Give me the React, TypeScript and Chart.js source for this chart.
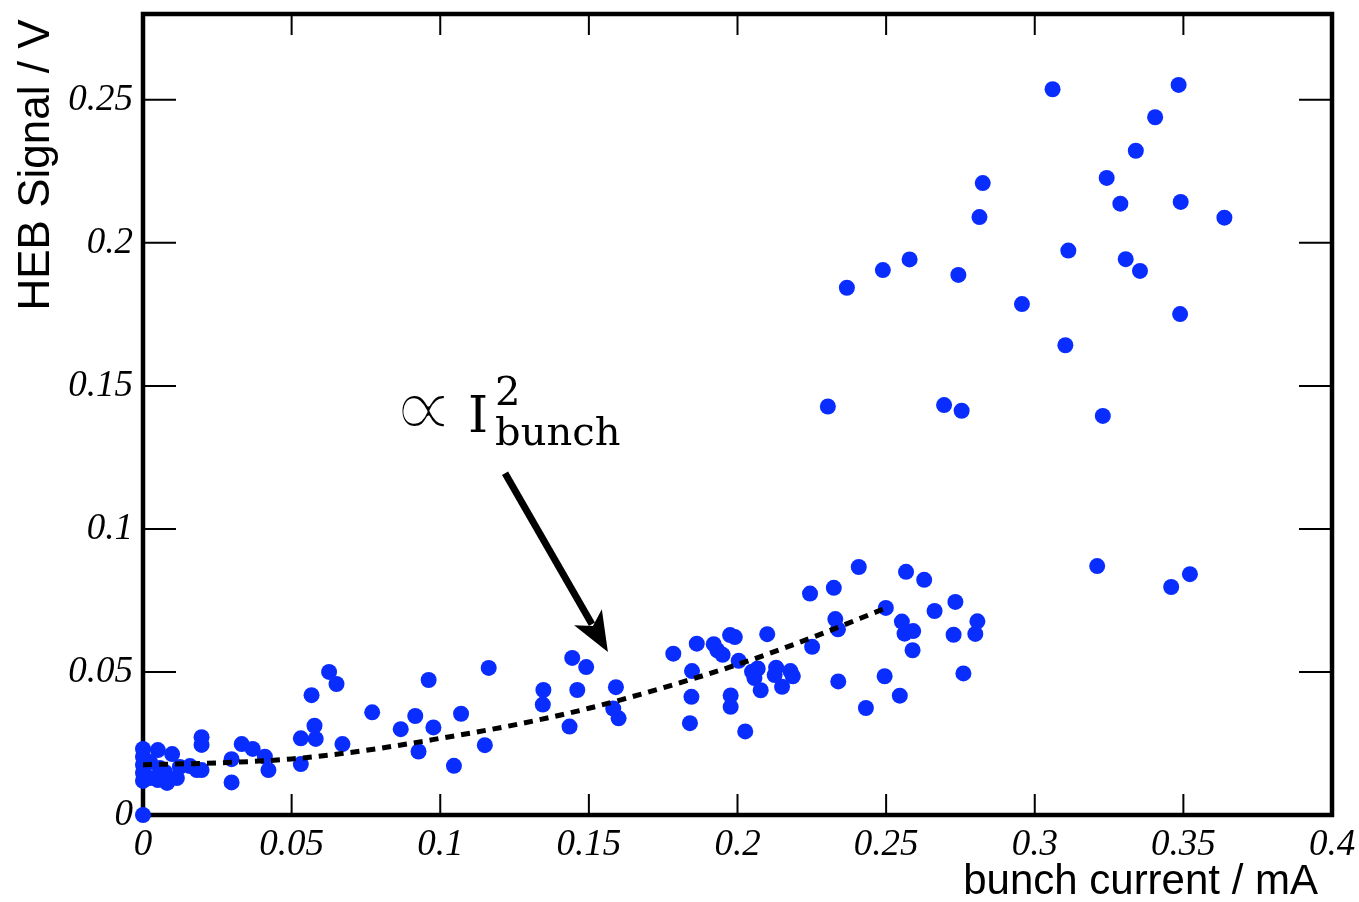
import React, { useEffect, useRef } from "react";
import { Chart, registerables } from "chart.js";

Chart.register(...registerables);

// ---- data ----
const currentX = [
  0, 0, 0, 0, 0, 0.005, 0.0098, 0.0024, 0.0057, 0.0124, 0.0158, 0.005, 0.0081, 0.0114, 0.0024, 0.0074, 0,
  0.0181, 0.0197, 0.0197, 0.0197, 0.0298, 0.0298, 0.0332, 0.0369, 0.041, 0.0422,
  0.0531, 0.0531, 0.0567, 0.0577, 0.0581, 0.0626, 0.0651, 0.0671, 0.0771,
  0.0867, 0.0916, 0.0927, 0.0961, 0.0977, 0.1046, 0.107, 0.115, 0.1163,
  0.1345, 0.1347, 0.1435, 0.1444, 0.1461, 0.1491, 0.1582, 0.1591, 0.16,
  0.1784, 0.184, 0.1845, 0.1847, 0.1863, 0.192, 0.1932, 0.195, 0.1975, 0.1991, 0.1977, 0.1977, 0.2004,
  0.2026, 0.2049, 0.2068, 0.2057, 0.2078, 0.21, 0.2125, 0.213, 0.215, 0.2178, 0.2186,
  0.2244, 0.2251, 0.2324, 0.2329, 0.2338, 0.2339, 0.2408, 0.2432, 0.2495, 0.2499, 0.2546, 0.2553,
  0.2562, 0.2567, 0.2589, 0.2591, 0.2628, 0.2663, 0.2727, 0.2733, 0.276, 0.28, 0.2807,
  0.321, 0.3459, 0.3522,
  0.306, 0.3484, 0.3405, 0.334, 0.3242, 0.2825, 0.2814, 0.3288, 0.3491, 0.3638, 0.3113, 0.3306,
  0.3354, 0.2579, 0.2489, 0.2368, 0.2743, 0.2957, 0.3489, 0.3103, 0.2304, 0.2695, 0.2754, 0.3229,
];

const signalY = [
  0.0231, 0.0203, 0.0175, 0.0147, 0.0119, 0.0227, 0.0213, 0.0185, 0.0164, 0.0168, 0.0171, 0.0122, 0.0112, 0.0129, 0.0129, 0.015, 0,
  0.0157, 0.0157, 0.0272, 0.0245, 0.0195, 0.0114, 0.0248, 0.0231, 0.0204, 0.0157,
  0.0268, 0.0178, 0.0419, 0.0312, 0.0266, 0.05, 0.0458, 0.0248, 0.0359,
  0.03, 0.0346, 0.0222, 0.0472, 0.0306, 0.0172, 0.0354, 0.0244, 0.0514,
  0.0386, 0.0437, 0.0309, 0.0549, 0.0437, 0.0517, 0.0372, 0.0447, 0.0338,
  0.0564, 0.0321, 0.0413, 0.0503, 0.0599, 0.0597, 0.0576, 0.056, 0.0629, 0.0622, 0.0418, 0.0378, 0.0539,
  0.0292, 0.0501, 0.0512, 0.0479, 0.0436, 0.0632, 0.0489, 0.0515, 0.0448, 0.0503, 0.0485,
  0.0774, 0.0588, 0.0794, 0.0685, 0.0649, 0.0467, 0.0867, 0.0374, 0.0485, 0.0724, 0.0417, 0.0676,
  0.0634, 0.085, 0.0576, 0.0643, 0.0822, 0.0713, 0.063, 0.0745, 0.0495, 0.0633, 0.0677,
  0.087, 0.0797, 0.0842,
  0.2537, 0.2552, 0.2439, 0.2322, 0.2227, 0.2209, 0.209, 0.2137, 0.2143, 0.2088, 0.1973, 0.1943,
  0.1902, 0.1942, 0.1905, 0.1843, 0.1888, 0.1786, 0.1751, 0.1642, 0.1428, 0.1433, 0.1413, 0.1395,
];

// dotted I^2 guide line
const fitX = [0, 0.025, 0.05, 0.075, 0.1, 0.125, 0.15, 0.175, 0.2, 0.225, 0.25];
const fitY = [0.0176, 0.0182, 0.0196, 0.0226, 0.0268, 0.0315, 0.0373, 0.0445, 0.0526, 0.062, 0.0724];

const xTickLabels = ["0", "0.05", "0.1", "0.15", "0.2", "0.25", "0.3", "0.35", "0.4"];
const yTickLabels = ["0", "0.05", "0.1", "0.15", "0.2", "0.25"];

const xTitle = "bunch current / mA";
const yTitle = "HEB Signal / V";

// annotation anchors (data units)
const annotAnchor = { x: 0.0865, y: 0.1339 };
const arrowStart = { x: 0.1218, y: 0.1195 };
const arrowTip = { x: 0.1564, y: 0.057 };

const BLUE = "rgb(10,45,255)";

const framePlugin = {
  id: "rootFrame",
  beforeDatasetsDraw(chart: any) {
    const { ctx, chartArea: a, scales } = chart;
    const xs = scales.x;
    const ys = scales.y;
    ctx.save();
    ctx.strokeStyle = "#000";
    ctx.lineWidth = 2;
    ctx.beginPath();
    xs.ticks.forEach((t: any) => {
      const px = xs.getPixelForValue(t.value);
      const major = t.label !== null && t.label !== undefined && t.label !== "";
      const L = major ? 21 : 10;
      ctx.moveTo(px, a.bottom);
      ctx.lineTo(px, a.bottom - L);
      ctx.moveTo(px, a.top);
      ctx.lineTo(px, a.top + L);
    });
    ys.ticks.forEach((t: any) => {
      const py = ys.getPixelForValue(t.value);
      const major = t.label !== null && t.label !== undefined && t.label !== "";
      const L = major ? 33 : 16;
      ctx.moveTo(a.left, py);
      ctx.lineTo(a.left + L, py);
      ctx.moveTo(a.right, py);
      ctx.lineTo(a.right - L, py);
    });
    ctx.stroke();
    ctx.lineWidth = 4.5;
    ctx.strokeRect(a.left, a.top, a.right - a.left, a.bottom - a.top);
    ctx.restore();
  },
  afterDraw(chart: any) {
    const { ctx, scales } = chart;
    const xs = scales.x;
    const ys = scales.y;
    ctx.save();
    ctx.fillStyle = "#000";
    // axis titles
    ctx.font = '44px "Liberation Sans", Arial, sans-serif';
    ctx.textAlign = "center";
    ctx.textBaseline = "middle";
    ctx.translate(36.5, 165);
    ctx.rotate(-Math.PI / 2);
    ctx.fillText(yTitle, 0, 0);
    ctx.setTransform(1, 0, 0, 1, 0, 0);
    ctx.font = '42px "Liberation Sans", Arial, sans-serif';
    ctx.textAlign = "right";
    ctx.textBaseline = "alphabetic";
    ctx.fillText(xTitle, 1318, 894);

    // annotation text
    const ax = xs.getPixelForValue(annotAnchor.x);
    const ay = ys.getPixelForValue(annotAnchor.y);
    ctx.textAlign = "left";
    ctx.font = '90px "DejaVu Sans", sans-serif';
    ctx.fillText("\u221D", ax - 9, ay + 6);
    // thin the heavy glyph strokes to match the light TeX symbol
    ctx.strokeStyle = "#fff";
    ctx.lineWidth = 3.5;
    ctx.lineJoin = "round";
    ctx.strokeText("\u221D", ax - 9, ay + 6);
    ctx.font = '51px "DejaVu Serif", serif';
    ctx.fillText("I", ax + 68, ay);
    ctx.font = '40px "DejaVu Serif", serif';
    ctx.fillText("2", ax + 95, ay - 27);
    ctx.fillText("bunch", ax + 95, ay + 13);

    // arrow
    const sx = xs.getPixelForValue(arrowStart.x);
    const sy = ys.getPixelForValue(arrowStart.y);
    const tx = xs.getPixelForValue(arrowTip.x);
    const ty = ys.getPixelForValue(arrowTip.y);
    const dx = tx - sx;
    const dy = ty - sy;
    const len = Math.hypot(dx, dy);
    const ux = dx / len;
    const uy = dy / len;
    const headLen = 40;
    const headHalf = 16;
    const bx = tx - ux * headLen;
    const by = ty - uy * headLen;
    ctx.strokeStyle = "#000";
    ctx.lineWidth = 7;
    ctx.lineJoin = "miter";
    ctx.beginPath();
    ctx.moveTo(sx, sy);
    ctx.lineTo(tx - ux * (headLen - 8), ty - uy * (headLen - 8));
    ctx.stroke();
    ctx.beginPath();
    ctx.moveTo(tx, ty);
    ctx.lineTo(bx - uy * headHalf, by + ux * headHalf);
    ctx.lineTo(tx - ux * (headLen - 10), ty - uy * (headLen - 10));
    ctx.lineTo(bx + uy * headHalf, by - ux * headHalf);
    ctx.closePath();
    ctx.fill();
    ctx.restore();
  },
};

function tickCb(labels: string[]) {
  return (v: any) => {
    const r = Math.round(Number(v) * 100);
    if (r % 5 === 0) {
      const l = labels[r / 5];
      return l === undefined ? null : l;
    }
    return null;
  };
}

export default function App() {
  const ref = useRef<HTMLCanvasElement | null>(null);
  useEffect(() => {
    document.body.style.margin = "0";
    const canvas = ref.current;
    if (!canvas) return;
    const points = currentX.map((x, i) => ({ x, y: signalY[i] }));
    const fit = fitX.map((x, i) => ({ x, y: fitY[i] }));
    const tickFont = { family: '"Liberation Serif", "Times New Roman", serif', size: 37, style: "italic" as const };
    const chart = new Chart(canvas, {
      type: "scatter",
      data: {
        datasets: [
          {
            label: "fit",
            data: fit,
            showLine: true,
            borderColor: "#000",
            borderWidth: 5,
            borderDash: [9, 7],
            borderCapStyle: "butt",
            pointRadius: 0,
            fill: false,
            cubicInterpolationMode: "monotone",
            order: 0,
          } as any,
          {
            label: "HEB signal",
            data: points,
            pointRadius: 8,
            pointHoverRadius: 8,
            backgroundColor: BLUE,
            borderWidth: 0,
            clip: false,
            order: 1,
          } as any,
        ],
      },
      options: {
        animation: false,
        responsive: false,
        devicePixelRatio: 1,
        layout: { padding: { top: 14, right: 27, left: 0, bottom: 0 } },
        plugins: { legend: { display: false }, tooltip: { enabled: false } },
        scales: {
          x: {
            type: "linear",
            min: 0,
            max: 0.4,
            grid: { display: false, drawTicks: false },
            border: { display: false },
            ticks: {
              stepSize: 0.01,
              autoSkip: false,
              maxRotation: 0,
              padding: 8,
              color: "#000",
              font: tickFont,
              callback: tickCb(xTickLabels),
            },
            afterFit: (s: any) => {
              s.height = 87;
              s.paddingLeft = 0;
              s.paddingRight = 0;
              s.paddingTop = 0;
              s.paddingBottom = 0;
            },
          },
          y: {
            type: "linear",
            min: 0,
            max: 0.28,
            grid: { display: false, drawTicks: false },
            border: { display: false },
            ticks: {
              stepSize: 0.01,
              autoSkip: false,
              padding: 10,
              color: "#000",
              font: tickFont,
              callback: tickCb(yTickLabels),
            },
            afterFit: (s: any) => {
              s.width = 143;
              s.paddingLeft = 0;
              s.paddingRight = 0;
              s.paddingTop = 0;
              s.paddingBottom = 0;
            },
          },
        },
      },
      plugins: [framePlugin],
    });
    return () => chart.destroy();
  }, []);
  return <canvas ref={ref} width={1359} height={902} style={{ display: "block" }} />;
}
